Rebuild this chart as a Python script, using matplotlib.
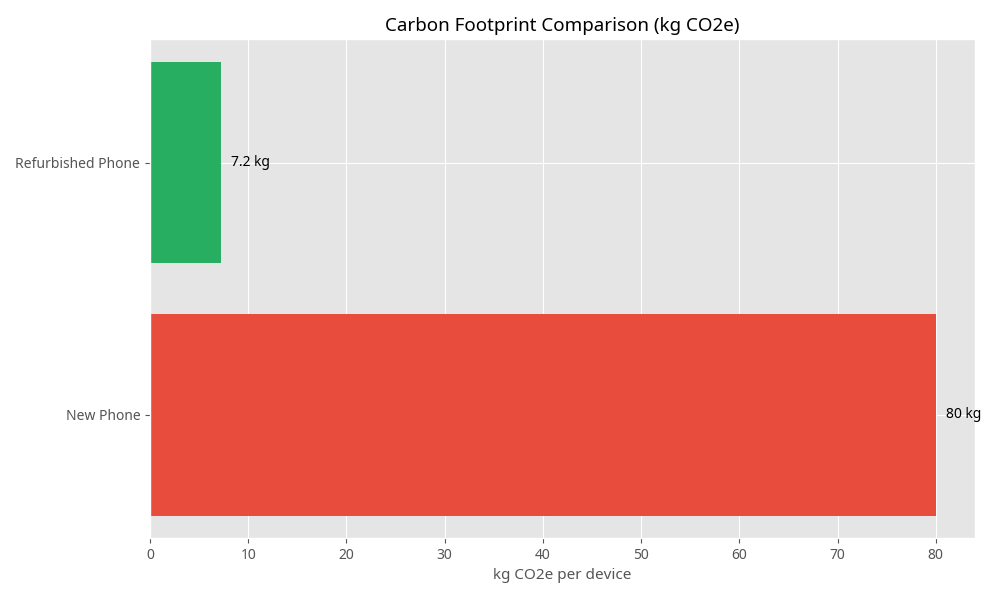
import matplotlib.pyplot as plt

plt.style.use('ggplot')
plt.rcParams['font.family'] = ['Noto Sans', 'DejaVu Sans']

# Dados do gráfico
devices = ["New Phone", "Refurbished Phone"]
footprint = [80, 7.2]
labels = ["80 kg", "7.2 kg"]
colors = ["#e74c3c", "#27ae60"]

fig, ax = plt.subplots(figsize=(10, 6), dpi=100)
bars = ax.barh(devices, footprint, color=colors, height=0.8)

for bar, lab in zip(bars, labels):
    ax.text(bar.get_width() + 1, bar.get_y() + bar.get_height() / 2, lab,
            va='center', ha='left', fontsize=10, fontweight='bold', color='black')

ax.set_xlim(0, 84)
ax.set_xticks(range(0, 90, 10))
ax.set_xlabel("kg CO2e per device", fontsize=11)
ax.set_title("Carbon Footprint Comparison (kg CO2e)", fontsize=13.5)
ax.tick_params(labelsize=10)

fig.subplots_adjust(left=0.15, right=0.975, top=0.935, bottom=0.103)
fig.savefig("out.png")
